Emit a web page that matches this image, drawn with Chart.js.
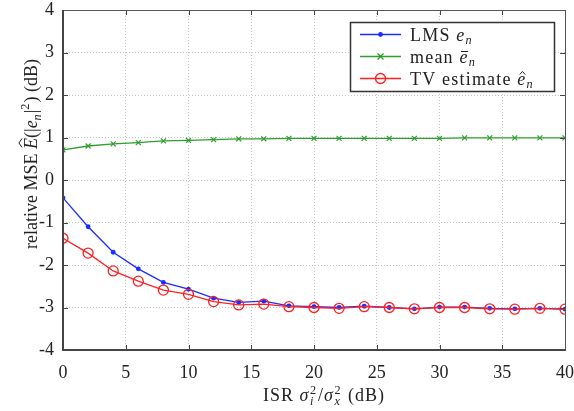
<!DOCTYPE html>
<html>
<head>
<meta charset="utf-8">
<title>Relative MSE vs ISR</title>
<script src="https://cdn.jsdelivr.net/npm/chart.js@4.4.1/dist/chart.umd.min.js"></script>
<style>
  html, body { margin: 0; padding: 0; background: #fff; }
  #wrap { width: 574px; height: 411px; }
</style>
</head>
<body>
<div id="wrap"><canvas id="mse" width="574" height="411"></canvas></div>
<script>
// ISR in dB and relative MSE in dB for the three error estimates
const isr = [0, 2, 4, 6, 8, 10, 12, 14, 16, 18, 20, 22, 24, 26, 28, 30, 32, 34, 36, 38, 40];
const lms = [-0.42, -1.1, -1.7, -2.09, -2.41, -2.57, -2.78, -2.88, -2.85, -2.96, -2.98, -3.0, -2.97, -3.0, -3.03, -2.99, -2.99, -3.02, -3.03, -3.02, -3.04];
const meanErr = [0.71, 0.8, 0.85, 0.88, 0.92, 0.93, 0.95, 0.97, 0.97, 0.98, 0.98, 0.98, 0.98, 0.98, 0.98, 0.98, 0.99, 0.99, 0.99, 0.99, 0.99];
const tv = [-1.37, -1.72, -2.14, -2.38, -2.59, -2.69, -2.86, -2.94, -2.92, -2.98, -3.0, -3.02, -2.98, -3.0, -3.03, -3.0, -3.0, -3.03, -3.04, -3.02, -3.04];

const xTicks = [0, 5, 10, 15, 20, 25, 30, 35, 40];
const yTicks = [-4, -3, -2, -1, 0, 1, 2, 3, 4];

const SERIF = '"Liberation Serif", "DejaVu Serif", serif';
const BLUE = '#1a2cff';
const GREEN = '#2e9e2e';
const RED = '#ff2020';

const toPoints = ys => isr.map((x, i) => ({ x: x, y: ys[i] }));

// small rich text helper: italics, sub/superscripts and accents
function fontOf(p, size) {
  return (p.it ? 'italic ' : '') + size + 'px ' + SERIF;
}
function partWidth(ctx, p, size) {
  const small = size * 0.68;
  if (p.stack) {
    ctx.font = fontOf({}, small);
    const a = ctx.measureText(p.stack[0]).width;
    ctx.font = fontOf({ it: true }, small);
    const b = ctx.measureText(p.stack[1]).width;
    return Math.max(a, b) + 1.5;
  }
  ctx.font = fontOf(p, (p.sub || p.sup) ? small : size);
  return ctx.measureText(p.t).width + ((p.sub || p.sup) ? 1 : 0);
}
function drawRich(ctx, parts, x, y, size, align, spacing) {
  ctx.letterSpacing = (spacing || 0) + 'px';
  const total = parts.reduce((w, p) => w + partWidth(ctx, p, size), 0);
  let cx = align === 'center' ? x - total / 2 : x;
  const small = size * 0.68;
  ctx.textAlign = 'left';
  ctx.textBaseline = 'alphabetic';
  parts.forEach(p => {
    const w = partWidth(ctx, p, size);
    if (p.stack) {
      ctx.font = fontOf({}, small);
      ctx.fillText(p.stack[0], cx + 0.5, y - size * 0.4);
      ctx.font = fontOf({ it: true }, small);
      ctx.fillText(p.stack[1], cx + 0.5, y + size * 0.24);
    } else if (p.sub) {
      ctx.font = fontOf(p, small);
      ctx.fillText(p.t, cx, y + size * 0.2);
    } else if (p.sup) {
      ctx.font = fontOf(p, small);
      ctx.fillText(p.t, cx, y - size * 0.42);
    } else {
      ctx.font = fontOf(p, size);
      ctx.fillText(p.t, cx, y);
    }
    if (p.acc) {
      const top = y - size * (p.cap ? 0.78 : 0.5);
      ctx.save();
      ctx.lineWidth = 1;
      ctx.strokeStyle = ctx.fillStyle;
      ctx.beginPath();
      if (p.acc === 'bar') {
        ctx.moveTo(cx + 1.5, top - 2);
        ctx.lineTo(cx + w - 0.5, top - 2);
      } else {
        const mid = cx + w / 2 + 0.5;
        const hw = p.cap ? w * 0.4 : w * 0.3;
        ctx.moveTo(mid - hw, top - 1);
        ctx.lineTo(mid, top - 4);
        ctx.lineTo(mid + hw, top - 1);
      }
      ctx.stroke();
      ctx.restore();
    }
    cx += w;
  });
  ctx.letterSpacing = '0px';
}

const legendItems = [
  { color: BLUE, marker: 'dot', parts: [{ t: 'LMS ' }, { t: 'e', it: true }, { t: 'n', it: true, sub: true }] },
  { color: GREEN, marker: 'cross', parts: [{ t: 'mean ' }, { t: 'e', it: true, acc: 'bar' }, { t: 'n', it: true, sub: true }] },
  { color: RED, marker: 'ring', parts: [{ t: 'TV estimate ' }, { t: 'e', it: true, acc: 'hat' }, { t: 'n', it: true, sub: true }] }
];

function drawMarker(ctx, kind, x, y, color) {
  ctx.save();
  ctx.strokeStyle = color;
  ctx.fillStyle = color;
  ctx.lineWidth = 1.3;
  ctx.beginPath();
  if (kind === 'dot') {
    ctx.arc(x, y, 2.4, 0, Math.PI * 2);
    ctx.fill();
  } else if (kind === 'cross') {
    ctx.moveTo(x - 3, y - 3); ctx.lineTo(x + 3, y + 3);
    ctx.moveTo(x - 3, y + 3); ctx.lineTo(x + 3, y - 3);
    ctx.stroke();
  } else {
    ctx.arc(x, y, 5, 0, Math.PI * 2);
    ctx.stroke();
  }
  ctx.restore();
}

// frame, inward ticks, titles and legend box
const decorations = {
  id: 'decorations',
  beforeDraw(chart) {
    const ctx = chart.ctx;
    ctx.save();
    ctx.fillStyle = '#fff';
    ctx.fillRect(0, 0, chart.width, chart.height);
    ctx.restore();
  },
  afterDraw(chart) {
    const ctx = chart.ctx;
    const a = chart.chartArea;
    const xs = chart.scales.x;
    const ys = chart.scales.y;
    ctx.save();

    // inward tick marks on all four sides
    ctx.strokeStyle = '#444';
    ctx.lineWidth = 1;
    ctx.beginPath();
    xTicks.forEach(v => {
      const px = Math.round(xs.getPixelForValue(v)) + 0.5;
      ctx.moveTo(px, a.bottom); ctx.lineTo(px, a.bottom - 5);
      ctx.moveTo(px, a.top); ctx.lineTo(px, a.top + 5);
    });
    yTicks.forEach(v => {
      const py = Math.round(ys.getPixelForValue(v)) + 0.5;
      ctx.moveTo(a.left, py); ctx.lineTo(a.left + 5, py);
      ctx.moveTo(a.right, py); ctx.lineTo(a.right - 5, py);
    });
    ctx.stroke();

    // plot box
    ctx.strokeStyle = '#555';
    ctx.lineWidth = 1;
    ctx.strokeRect(a.left + 0.5, a.top + 0.5, a.right - a.left, a.bottom - a.top);
    ctx.lineWidth = 2;
    ctx.strokeStyle = '#444';
    ctx.beginPath();
    ctx.moveTo(a.left, a.top);
    ctx.lineTo(a.left, a.bottom);
    ctx.lineTo(a.right + 1, a.bottom);
    ctx.stroke();

    // axis titles
    ctx.fillStyle = '#222';
    drawRich(ctx, [
      { t: 'ISR ' }, { t: 'σ', it: true }, { stack: ['2', 'i'] }, { t: '/' },
      { t: 'σ', it: true }, { stack: ['2', 'x'] }, { t: ' (dB)' }
    ], (a.left + a.right) / 2 + 10, 401, 18, 'center', 1);

    ctx.save();
    ctx.translate(37, 154);
    ctx.rotate(-Math.PI / 2);
    drawRich(ctx, [
      { t: 'relative MSE ' }, { t: 'E', it: true, acc: 'hat', cap: true }, { t: '(|' },
      { t: 'e', it: true }, { t: 'n', it: true, sub: true }, { t: '|' }, { t: '2', sup: true },
      { t: ') (dB)' }
    ], 0, 0, 18, 'center', 0);
    ctx.restore();

    // legend
    const bx = 350, by = 22, bw = 204, bh = 69;
    ctx.fillStyle = '#fff';
    ctx.fillRect(bx, by, bw, bh);
    ctx.strokeStyle = '#333';
    ctx.lineWidth = 1.5;
    ctx.strokeRect(bx + 0.5, by + 0.5, bw, bh);
    legendItems.forEach((item, i) => {
      const cy = 34.5 + i * 22;
      ctx.strokeStyle = item.color;
      ctx.lineWidth = 1.3;
      ctx.beginPath();
      ctx.moveTo(360, cy); ctx.lineTo(401, cy);
      ctx.stroke();
      drawMarker(ctx, item.marker, 380.5, cy, item.color);
      ctx.fillStyle = '#222';
      drawRich(ctx, item.parts, 410, cy + 6, 18, 'left', 1.2);
    });

    ctx.restore();
  }
};

new Chart(document.getElementById('mse'), {
  type: 'line',
  data: {
    datasets: [
      {
        label: 'LMS',
        data: toPoints(lms),
        borderColor: BLUE,
        backgroundColor: BLUE,
        borderWidth: 1.3,
        pointStyle: 'circle',
        pointRadius: 2.4,
        pointBorderWidth: 0,
        order: 3
      },
      {
        label: 'mean',
        data: toPoints(meanErr),
        borderColor: GREEN,
        backgroundColor: GREEN,
        borderWidth: 1.3,
        pointStyle: 'crossRot',
        pointRadius: 3.5,
        pointBorderWidth: 1.2,
        order: 2
      },
      {
        label: 'TV estimate',
        data: toPoints(tv),
        borderColor: RED,
        backgroundColor: 'rgba(0,0,0,0)',
        borderWidth: 1.3,
        pointStyle: 'circle',
        pointRadius: 5,
        pointBorderWidth: 1.3,
        order: 1
      }
    ]
  },
  options: {
    responsive: false,
    animation: false,
    layout: { padding: { top: 10, right: 9, left: 0, bottom: 0 } },
    plugins: { legend: { display: false }, tooltip: { enabled: false } },
    elements: { line: { tension: 0 } },
    scales: {
      x: {
        type: 'linear',
        min: 0,
        max: 40,
        afterBuildTicks: s => { s.ticks = xTicks.map(v => ({ value: v })); },
        afterFit: s => { s.height = 61; s.paddingLeft = 0; s.paddingRight = 0; },
        ticks: { color: '#222', padding: 12, maxRotation: 0, font: { family: SERIF, size: 18 } },
        grid: { color: '#c4c4c4', drawTicks: false, lineWidth: 1 },
        border: { display: false, dash: [1, 2] }
      },
      y: {
        min: -4,
        max: 4,
        afterBuildTicks: s => { s.ticks = yTicks.map(v => ({ value: v })); },
        afterFit: s => { s.width = 63; s.paddingTop = 0; s.paddingBottom = 0; },
        ticks: { color: '#222', padding: 9, font: { family: SERIF, size: 18 } },
        grid: { color: '#c4c4c4', drawTicks: false, lineWidth: 1 },
        border: { display: false, dash: [1, 2] }
      }
    }
  },
  plugins: [decorations]
});
</script>
</body>
</html>
